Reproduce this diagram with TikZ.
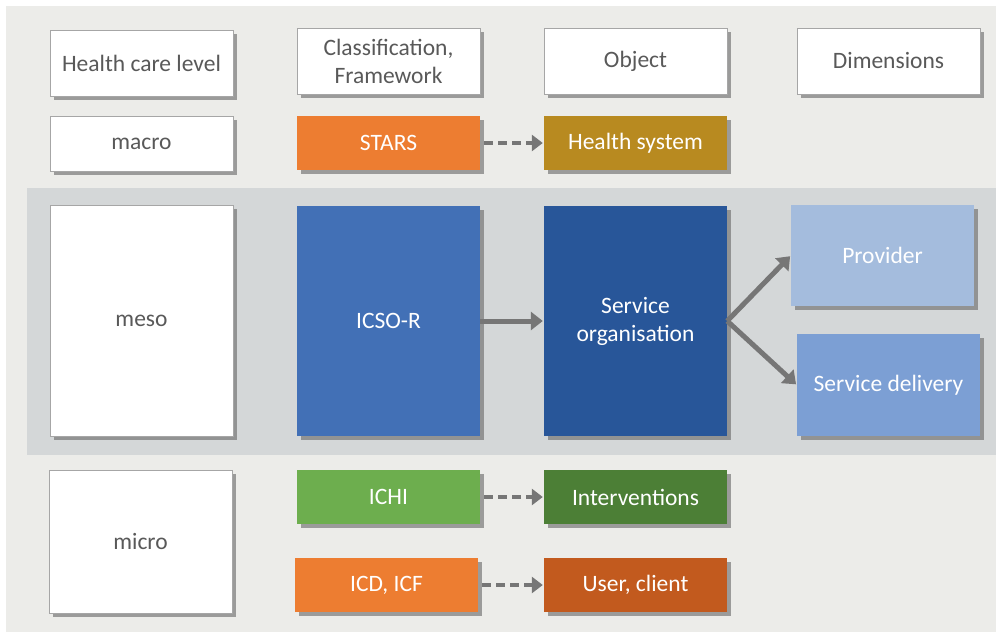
\documentclass[tikz,border=0pt]{standalone}
\usepackage{fontspec}
\setmainfont{Carlito}
\usetikzlibrary{arrows.meta,shadows}
\definecolor{bgout}{HTML}{ECECE9}
\definecolor{bgband}{HTML}{D4D7D8}
\definecolor{txtgray}{HTML}{595959}
\definecolor{bordergray}{HTML}{A6A6A6}
\definecolor{cstars}{HTML}{ED7D31}
\definecolor{chealth}{HTML}{B88A20}
\definecolor{cicso}{HTML}{4270B6}
\definecolor{cso}{HTML}{285699}
\definecolor{cprov}{HTML}{A4BCDD}
\definecolor{cdeliv}{HTML}{7C9FD4}
\definecolor{cichi}{HTML}{6DAE4E}
\definecolor{cinterv}{HTML}{4C7F36}
\definecolor{cuser}{HTML}{C25A1E}
\definecolor{arrgray}{HTML}{767676}
\tikzset{
  base/.style={rectangle, inner sep=2pt, align=center,
    font=\fontsize{23.5}{28}\selectfont,
    drop shadow={shadow xshift=4pt, shadow yshift=-4pt, opacity=0.6, fill=black!60}},
  wbox/.style={base, fill=white, draw=bordergray, line width=0.8pt, text=txtgray},
  cbox/.style={base, fill=#1, draw=none, text=white},
  dasharrow/.style={draw=arrgray, line width=4.5pt, dash pattern=on 9pt off 5pt,
    -{Triangle[length=11pt,width=16pt]}, shorten <=4pt, shorten >=1pt},
  solarrow/.style={draw=arrgray, line width=5pt, -{Triangle[length=12pt,width=18pt]}, shorten >=1pt}
}
\begin{document}
\begin{tikzpicture}[x=1pt,y=-1pt]
\useasboundingbox (0,0) rectangle (996,634);
\fill[white] (0,0) rectangle (996,634);
\fill[bgout] (6,6) rectangle (996,632);
\fill[bgband] (27,188) rectangle (996,455);
% header row
\node[wbox, minimum width=183pt, minimum height=66pt] (hcl) at (141.5,63) {Health care level};
\node[wbox, minimum width=183pt, minimum height=66pt] (cf) at (388.5,61) {Classification,\\Framework};
\node[wbox, minimum width=183pt, minimum height=66pt] (obj) at (635.5,61) {Object};
\node[wbox, minimum width=183pt, minimum height=66pt] (dim) at (888.5,61) {Dimensions};
% macro row
\node[wbox, minimum width=183pt, minimum height=55pt] (macro) at (141.5,143.5) {macro};
\node[cbox=cstars, minimum width=183pt, minimum height=54pt] (stars) at (388.5,143) {STARS};
\node[cbox=chealth, minimum width=183pt, minimum height=54pt] (hs) at (635.5,143) {Health system};
% meso row
\node[wbox, minimum width=183pt, minimum height=231pt] (meso) at (141.5,320.5) {meso};
\node[cbox=cicso, minimum width=183pt, minimum height=230pt] (icso) at (388.5,321) {ICSO-R};
\node[cbox=cso, minimum width=183pt, minimum height=230pt] (so) at (635.5,321) {Service\\organisation};
\node[cbox=cprov, minimum width=183pt, minimum height=101pt] (prov) at (882.5,255.5) {Provider};
\node[cbox=cdeliv, minimum width=183pt, minimum height=102pt] (deliv) at (888.5,385) {Service delivery};
% micro row
\node[wbox, minimum width=183pt, minimum height=143pt] (micro) at (140.5,541.5) {micro};
\node[cbox=cichi, minimum width=183pt, minimum height=54pt] (ichi) at (388.5,497) {ICHI};
\node[cbox=cinterv, minimum width=183pt, minimum height=54pt] (interv) at (635.5,497) {Interventions};
\node[cbox=cstars, minimum width=183pt, minimum height=54pt] (icd) at (386.5,585) {ICD, ICF};
\node[cbox=cuser, minimum width=183pt, minimum height=54pt] (user) at (635.5,585) {User, client};
% connectors
\draw[dasharrow] (stars.east) -- (hs.west);
\draw[dasharrow] (ichi.east) -- (interv.west);
\draw[dasharrow] (icd.east) -- (user.west);
\draw[solarrow] (icso.east) -- (so.west);
\draw[solarrow] (so.east) -- (prov.west);
\draw[solarrow] (so.east) -- (deliv.west);
\end{tikzpicture}
\end{document}
